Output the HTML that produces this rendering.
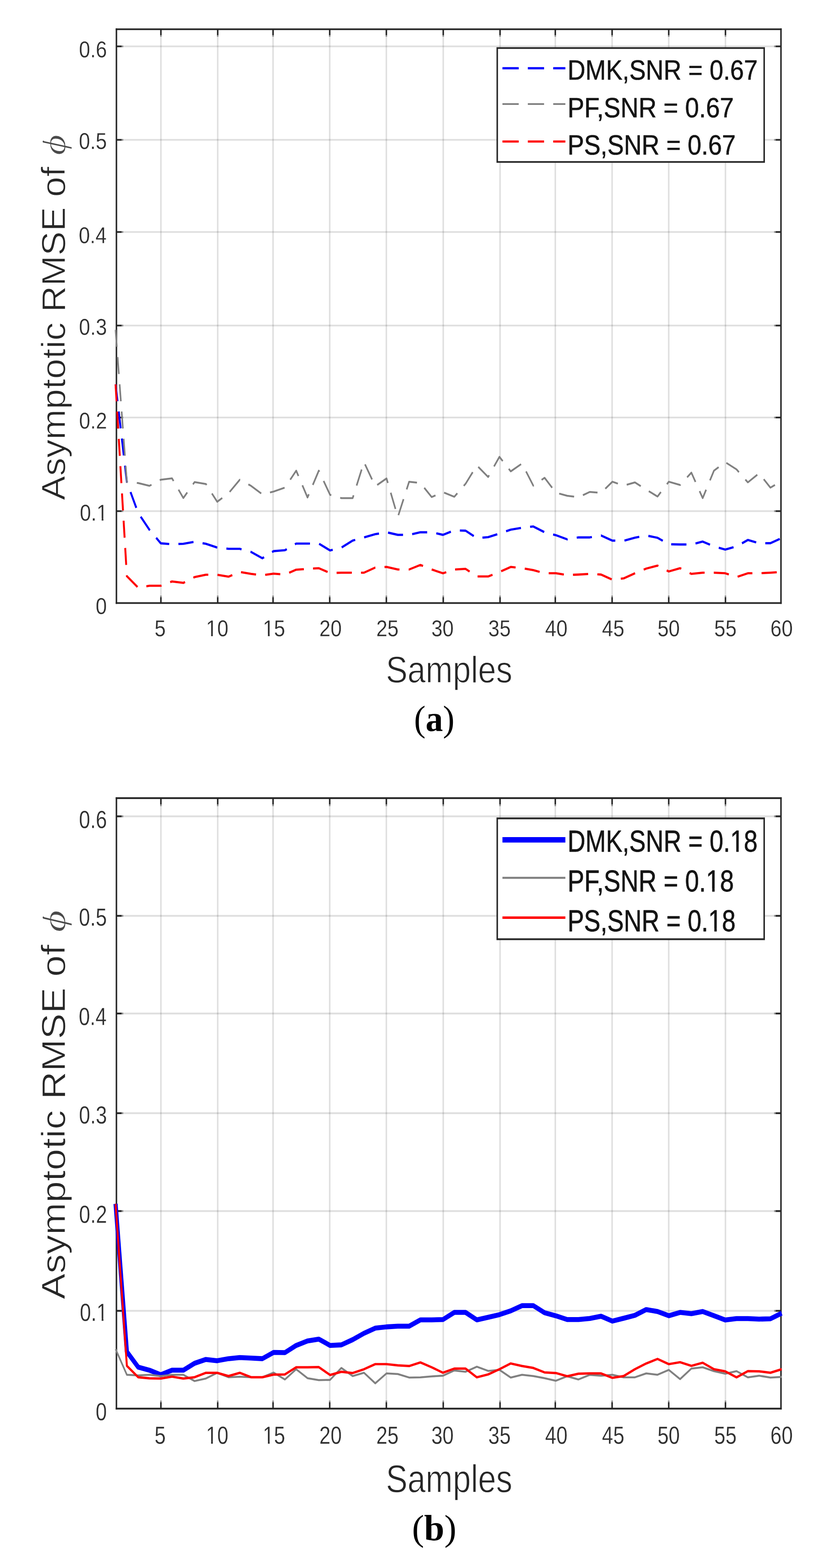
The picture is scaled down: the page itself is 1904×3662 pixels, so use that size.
<!DOCTYPE html>
<html lang="en"><head><meta charset="utf-8"><title>Asymptotic RMSE vs Samples</title>
<style>
html,body{margin:0;padding:0;background:#fff}
body{width:1904px;height:3662px;overflow:hidden}
svg{display:block}
text{white-space:pre;font-family:"Liberation Sans",sans-serif;font-size:100px;fill:#262626;stroke-linejoin:round}
.tk text{fill:#2e2e2e}
.lg text{fill:#141414;stroke:#141414;stroke-width:1.1px}
.ph text{font-family:"Liberation Serif",serif;font-style:italic;fill:#4a4a4a}
.cp text{font-family:"Liberation Serif",serif;font-size:85px;fill:#000}
</style></head><body>
<svg width="1904" height="3662" viewBox="0 0 1904 3662" role="img" aria-label="Asymptotic RMSE versus samples for DMK, PF and PS at SNR 0.67 (a) and SNR 0.18 (b)">
<rect width="1904" height="3662" fill="#fff"/>
<g>
<rect x="374.15" y="68.3" width="3.5" height="1340.1" fill="rgba(38,38,38,.15)"/>
<rect x="506.85" y="68.3" width="3.5" height="1340.1" fill="rgba(38,38,38,.15)"/>
<rect x="636.15" y="68.3" width="3.5" height="1340.1" fill="rgba(38,38,38,.15)"/>
<rect x="768.55" y="68.3" width="3.5" height="1340.1" fill="rgba(38,38,38,.15)"/>
<rect x="900.85" y="68.3" width="3.5" height="1340.1" fill="rgba(38,38,38,.15)"/>
<rect x="1033.75" y="68.3" width="3.5" height="1340.1" fill="rgba(38,38,38,.15)"/>
<rect x="1166.45" y="68.3" width="3.5" height="1340.1" fill="rgba(38,38,38,.15)"/>
<rect x="1295.55" y="68.3" width="3.5" height="1340.1" fill="rgba(38,38,38,.15)"/>
<rect x="1428.25" y="68.3" width="3.5" height="1340.1" fill="rgba(38,38,38,.15)"/>
<rect x="1560.55" y="68.3" width="3.5" height="1340.1" fill="rgba(38,38,38,.15)"/>
<rect x="1693.05" y="68.3" width="3.5" height="1340.1" fill="rgba(38,38,38,.15)"/>
<rect x="272" y="1191.75" width="1552.5" height="3.9" fill="rgba(38,38,38,.15)"/>
<rect x="272" y="973.15" width="1552.5" height="3.9" fill="rgba(38,38,38,.15)"/>
<rect x="272" y="758.35" width="1552.5" height="3.9" fill="rgba(38,38,38,.15)"/>
<rect x="272" y="539.85" width="1552.5" height="3.9" fill="rgba(38,38,38,.15)"/>
<rect x="272" y="324.65" width="1552.5" height="3.9" fill="rgba(38,38,38,.15)"/>
<rect x="272" y="106.35" width="1552.5" height="3.9" fill="rgba(38,38,38,.15)"/>
<rect x="270.25" y="66.35" width="1556" height="3.9" fill="#262626"/>
<rect x="270.25" y="1406.45" width="1556" height="3.9" fill="#262626"/>
<rect x="270.25" y="66.35" width="3.5" height="1344" fill="#262626"/>
<rect x="1822.75" y="66.35" width="3.5" height="1344" fill="#262626"/>
<rect x="374.15" y="1390.9" width="3.5" height="3.8" fill="#8c8c8c"/>
<rect x="374.15" y="1394.7" width="3.5" height="13.7" fill="#262626"/>
<rect x="374.15" y="68.3" width="3.5" height="13.7" fill="#262626"/>
<rect x="374.15" y="82" width="3.5" height="3.8" fill="#8c8c8c"/>
<rect x="506.85" y="1390.9" width="3.5" height="3.8" fill="#8c8c8c"/>
<rect x="506.85" y="1394.7" width="3.5" height="13.7" fill="#262626"/>
<rect x="506.85" y="68.3" width="3.5" height="13.7" fill="#262626"/>
<rect x="506.85" y="82" width="3.5" height="3.8" fill="#8c8c8c"/>
<rect x="636.15" y="1390.9" width="3.5" height="3.8" fill="#8c8c8c"/>
<rect x="636.15" y="1394.7" width="3.5" height="13.7" fill="#262626"/>
<rect x="636.15" y="68.3" width="3.5" height="13.7" fill="#262626"/>
<rect x="636.15" y="82" width="3.5" height="3.8" fill="#8c8c8c"/>
<rect x="768.55" y="1390.9" width="3.5" height="3.8" fill="#8c8c8c"/>
<rect x="768.55" y="1394.7" width="3.5" height="13.7" fill="#262626"/>
<rect x="768.55" y="68.3" width="3.5" height="13.7" fill="#262626"/>
<rect x="768.55" y="82" width="3.5" height="3.8" fill="#8c8c8c"/>
<rect x="900.85" y="1390.9" width="3.5" height="3.8" fill="#8c8c8c"/>
<rect x="900.85" y="1394.7" width="3.5" height="13.7" fill="#262626"/>
<rect x="900.85" y="68.3" width="3.5" height="13.7" fill="#262626"/>
<rect x="900.85" y="82" width="3.5" height="3.8" fill="#8c8c8c"/>
<rect x="1033.75" y="1390.9" width="3.5" height="3.8" fill="#8c8c8c"/>
<rect x="1033.75" y="1394.7" width="3.5" height="13.7" fill="#262626"/>
<rect x="1033.75" y="68.3" width="3.5" height="13.7" fill="#262626"/>
<rect x="1033.75" y="82" width="3.5" height="3.8" fill="#8c8c8c"/>
<rect x="1166.45" y="1390.9" width="3.5" height="3.8" fill="#8c8c8c"/>
<rect x="1166.45" y="1394.7" width="3.5" height="13.7" fill="#262626"/>
<rect x="1166.45" y="68.3" width="3.5" height="13.7" fill="#262626"/>
<rect x="1166.45" y="82" width="3.5" height="3.8" fill="#8c8c8c"/>
<rect x="1295.55" y="1390.9" width="3.5" height="3.8" fill="#8c8c8c"/>
<rect x="1295.55" y="1394.7" width="3.5" height="13.7" fill="#262626"/>
<rect x="1295.55" y="68.3" width="3.5" height="13.7" fill="#262626"/>
<rect x="1295.55" y="82" width="3.5" height="3.8" fill="#8c8c8c"/>
<rect x="1428.25" y="1390.9" width="3.5" height="3.8" fill="#8c8c8c"/>
<rect x="1428.25" y="1394.7" width="3.5" height="13.7" fill="#262626"/>
<rect x="1428.25" y="68.3" width="3.5" height="13.7" fill="#262626"/>
<rect x="1428.25" y="82" width="3.5" height="3.8" fill="#8c8c8c"/>
<rect x="1560.55" y="1390.9" width="3.5" height="3.8" fill="#8c8c8c"/>
<rect x="1560.55" y="1394.7" width="3.5" height="13.7" fill="#262626"/>
<rect x="1560.55" y="68.3" width="3.5" height="13.7" fill="#262626"/>
<rect x="1560.55" y="82" width="3.5" height="3.8" fill="#8c8c8c"/>
<rect x="1693.05" y="1390.9" width="3.5" height="3.8" fill="#8c8c8c"/>
<rect x="1693.05" y="1394.7" width="3.5" height="13.7" fill="#262626"/>
<rect x="1693.05" y="68.3" width="3.5" height="13.7" fill="#262626"/>
<rect x="1693.05" y="82" width="3.5" height="3.8" fill="#8c8c8c"/>
<rect x="272" y="1191.75" width="12.4" height="3.9" fill="#262626"/>
<rect x="284.4" y="1191.75" width="3.6" height="3.9" fill="#8c8c8c"/>
<rect x="1812.1" y="1191.75" width="12.4" height="3.9" fill="#262626"/>
<rect x="1808.5" y="1191.75" width="3.6" height="3.9" fill="#8c8c8c"/>
<rect x="272" y="973.15" width="12.4" height="3.9" fill="#262626"/>
<rect x="284.4" y="973.15" width="3.6" height="3.9" fill="#8c8c8c"/>
<rect x="1812.1" y="973.15" width="12.4" height="3.9" fill="#262626"/>
<rect x="1808.5" y="973.15" width="3.6" height="3.9" fill="#8c8c8c"/>
<rect x="272" y="758.35" width="12.4" height="3.9" fill="#262626"/>
<rect x="284.4" y="758.35" width="3.6" height="3.9" fill="#8c8c8c"/>
<rect x="1812.1" y="758.35" width="12.4" height="3.9" fill="#262626"/>
<rect x="1808.5" y="758.35" width="3.6" height="3.9" fill="#8c8c8c"/>
<rect x="272" y="539.85" width="12.4" height="3.9" fill="#262626"/>
<rect x="284.4" y="539.85" width="3.6" height="3.9" fill="#8c8c8c"/>
<rect x="1812.1" y="539.85" width="12.4" height="3.9" fill="#262626"/>
<rect x="1808.5" y="539.85" width="3.6" height="3.9" fill="#8c8c8c"/>
<rect x="272" y="324.65" width="12.4" height="3.9" fill="#262626"/>
<rect x="284.4" y="324.65" width="3.6" height="3.9" fill="#8c8c8c"/>
<rect x="1812.1" y="324.65" width="12.4" height="3.9" fill="#262626"/>
<rect x="1808.5" y="324.65" width="3.6" height="3.9" fill="#8c8c8c"/>
<rect x="272" y="106.35" width="12.4" height="3.9" fill="#262626"/>
<rect x="284.4" y="106.35" width="3.6" height="3.9" fill="#8c8c8c"/>
<rect x="1812.1" y="106.35" width="12.4" height="3.9" fill="#262626"/>
<rect x="1808.5" y="106.35" width="3.6" height="3.9" fill="#8c8c8c"/>
</g>
<g class="tk">
<text transform="translate(360.96 1485.6) scale(0.4700 0.5300)" stroke="#fff" stroke-width="0.6">5</text>
<text transform="translate(481.28 1485.6) scale(0.4700 0.5300)" stroke="#fff" stroke-width="0.6">10</text><path transform="translate(481.28 1485.6) scale(0.4700 0.5300)" fill="#fff" d="M5.5 -10h19.8v12h-19.8z M34 -10h19v12h-19z"/>
<text transform="translate(613.99 1485.6) scale(0.4700 0.5300)" stroke="#fff" stroke-width="0.6">15</text><path transform="translate(613.99 1485.6) scale(0.4700 0.5300)" fill="#fff" d="M5.5 -10h19.8v12h-19.8z M34 -10h19v12h-19z"/>
<text transform="translate(746.06 1485.6) scale(0.4700 0.5300)" stroke="#fff" stroke-width="0.6">20</text>
<text transform="translate(878.98 1485.6) scale(0.4700 0.5300)" stroke="#fff" stroke-width="0.6">25</text>
<text transform="translate(1007.7 1485.6) scale(0.4700 0.5300)" stroke="#fff" stroke-width="0.6">30</text>
<text transform="translate(1140.82 1485.6) scale(0.4700 0.5300)" stroke="#fff" stroke-width="0.6">35</text>
<text transform="translate(1273.55 1485.6) scale(0.4700 0.5300)" stroke="#fff" stroke-width="0.6">40</text>
<text transform="translate(1406.37 1485.6) scale(0.4700 0.5300)" stroke="#fff" stroke-width="0.6">45</text>
<text transform="translate(1535.9 1485.6) scale(0.4700 0.5300)" stroke="#fff" stroke-width="0.6">50</text>
<text transform="translate(1668.51 1485.6) scale(0.4700 0.5300)" stroke="#fff" stroke-width="0.6">55</text>
<text transform="translate(1799.76 1485.6) scale(0.4700 0.5300)" stroke="#fff" stroke-width="0.6">60</text>
<text transform="translate(223.59 1434.49) scale(0.4700 0.5300)" stroke="#fff" stroke-width="0.6">0</text>
<text transform="translate(186.43 1215.59) scale(0.4700 0.5300)" stroke="#fff" stroke-width="0.6">0.1</text><path transform="translate(186.43 1215.59) scale(0.4700 0.5300)" fill="#fff" d="M88.89 -10h19.8v12h-19.8z M117.39 -10h19v12h-19z"/>
<text transform="translate(184.82 1000.78) scale(0.4700 0.5300)" stroke="#fff" stroke-width="0.6">0.2</text>
<text transform="translate(184.59 782.08) scale(0.4700 0.5300)" stroke="#fff" stroke-width="0.6">0.3</text>
<text transform="translate(183.88 567.78) scale(0.4700 0.5300)" stroke="#fff" stroke-width="0.6">0.4</text>
<text transform="translate(184.35 348.39) scale(0.4700 0.5300)" stroke="#fff" stroke-width="0.6">0.5</text>
<text transform="translate(184.59 133.78) scale(0.4700 0.5300)" stroke="#fff" stroke-width="0.6">0.6</text>
</g>
<g class="lb">
<text transform="translate(901.4 1594.4) scale(0.7600 0.8660)" stroke="#fff" stroke-width="1.6">Samples</text>
<text transform="translate(152.4 1168.3) rotate(-90) scale(0.8500 0.7800)" stroke="#fff" stroke-width="1.6">Asymptotic RMSE of</text>
</g>
<g class="ph">
<text transform="translate(152.4 362.5) rotate(-90) scale(0.9300 0.7500)" stroke="#fff" stroke-width="1.43">&#981;</text>
<text transform="translate(120.9 339.8) rotate(-90) scale(0.4000 0.3200)">&#729;</text>
</g>
<g transform="scale(1 1.12)" fill="none" stroke-linejoin="round">
<polyline points="270,801.4 296.4,1005.3 322.8,1069.6 349.1,1104.7 375.5,1132.9 401.9,1134.8 428.3,1133.9 454.6,1129.8 481,1133.9 507.4,1141.7 533.8,1144.4 560.1,1144.4 586.5,1150.9 612.9,1164.1 639.3,1149.2 665.6,1147.3 692,1133.5 718.4,1133.5 744.8,1133.5 771.1,1147.8 797.5,1141.9 823.9,1127.3 850.3,1120.6 876.7,1113.9 903,1109.9 929.4,1115.3 955.8,1115.3 982.2,1109.9 1008.5,1109.9 1034.9,1115.3 1061.3,1105.9 1087.7,1106.6 1114,1122 1140.4,1120.1 1166.8,1112.6 1193.2,1104.5 1219.5,1100.5 1245.9,1097.8 1272.3,1109.9 1298.7,1116 1325.1,1124.7 1351.4,1120.6 1377.8,1120.6 1404.2,1116.6 1430.6,1127.3 1456.9,1127.7 1483.3,1121.2 1509.7,1116.6 1536.1,1121.4 1562.4,1134.8 1588.8,1135.4 1615.2,1135.4 1641.6,1129.3 1667.9,1139.4 1694.3,1145.9 1720.7,1139.4 1747.1,1126 1773.4,1132.7 1799.8,1132.7 1826.2,1122" stroke="#0000ff" stroke-width="4.6" stroke-dasharray="35.5 21.5"/>
<polyline points="270,687.7 296.4,1005.3 322.8,1007.2 349.1,1013.1 375.5,1000.4 401.9,997.5 428.3,1038.5 454.6,1005.3 481,1009.2 507.4,1046.3 533.8,1028.7 560.1,1000.4 586.5,1013.1 612.9,1030.7 639.3,1025 665.6,1016.8 692,981.5 718.4,1037.3 744.8,981.5 771.1,1031.8 797.5,1038.7 823.9,1038.7 850.3,963.7 876.7,1014.1 903,997.7 929.4,1077.9 955.8,1004.5 982.2,1007.2 1008.5,1036.5 1034.9,1026.4 1061.3,1035.9 1087.7,1008.8 1114,970.6 1140.4,994.6 1166.8,952.6 1193.2,982.9 1219.5,966.5 1245.9,1012.7 1272.3,996.3 1298.7,1027.4 1325.1,1033.8 1351.4,1036.9 1377.8,1025.8 1404.2,1027.7 1430.6,1004.5 1456.9,1012.7 1483.3,1005.9 1509.7,1020.9 1536.1,1035.4 1562.4,1004.5 1588.8,1011.3 1615.2,985.6 1641.6,1038.7 1667.9,981.5 1694.3,963.7 1720.7,978.8 1747.1,1005.9 1773.4,987 1799.8,1016.8 1826.2,1003.2" stroke="#808080" stroke-width="3.8" stroke-dasharray="35.5 21.5"/>
<polyline points="270,801.4 296.4,1201.5 322.8,1225.5 349.1,1221.5 375.5,1221.5 401.9,1212.5 428.3,1215.5 454.6,1203.4 481,1198.5 507.4,1198.5 533.8,1202.5 560.1,1192.7 586.5,1196.7 612.9,1199.4 639.3,1196.2 665.6,1198.1 692,1187.9 718.4,1186.2 744.8,1184.8 771.1,1195 797.5,1194.2 823.9,1194.2 850.3,1194.2 876.7,1183.5 903,1182.2 929.4,1187.5 955.8,1187.5 982.2,1178.1 1008.5,1187.5 1034.9,1195.4 1061.3,1187.5 1087.7,1186.2 1114,1202.1 1140.4,1202.1 1166.8,1192.7 1193.2,1182.2 1219.5,1184.8 1245.9,1188.9 1272.3,1195.4 1298.7,1195.4 1325.1,1199 1351.4,1198.1 1377.8,1196.7 1404.2,1198.1 1430.6,1208.8 1456.9,1206.1 1483.3,1195.4 1509.7,1185.6 1536.1,1179.5 1562.4,1191.6 1588.8,1184.8 1615.2,1196.7 1641.6,1194.2 1667.9,1194.2 1694.3,1195.4 1720.7,1203.4 1747.1,1195.4 1773.4,1195.4 1799.8,1194.2 1826.2,1192.7" stroke="#ff0000" stroke-width="4.5" stroke-dasharray="35.5 21.5"/>
</g>
<g>
<rect x="1159.9" y="110.3" width="627.1" height="269.9" fill="#262626"/>
<rect x="1163.4" y="114.2" width="620.1" height="262.1" fill="#fff"/>
</g>
<g class="lg">
<line x1="1173.8" y1="159.3" x2="1320.8" y2="159.3" stroke="#0000ff" stroke-width="5.2" stroke-dasharray="38 21.3"/>
<text transform="translate(1325.9 186.2) scale(0.5770 0.6550)">DMK,SNR = 0.67</text>
<line x1="1173.8" y1="243.1" x2="1320.8" y2="243.1" stroke="#808080" stroke-width="4" stroke-dasharray="38 21.3"/>
<text transform="translate(1325.9 273.5) scale(0.5850 0.6550)">PF,SNR = 0.67</text>
<line x1="1173.8" y1="330.5" x2="1320.8" y2="330.5" stroke="#ff0000" stroke-width="5" stroke-dasharray="38 21.3"/>
<text transform="translate(1325.9 360.6) scale(0.5770 0.6550)">PS,SNR = 0.67</text>
</g>
<g>
<rect x="374.15" y="1864" width="3.5" height="1425.8" fill="rgba(38,38,38,.15)"/>
<rect x="506.85" y="1864" width="3.5" height="1425.8" fill="rgba(38,38,38,.15)"/>
<rect x="636.15" y="1864" width="3.5" height="1425.8" fill="rgba(38,38,38,.15)"/>
<rect x="768.55" y="1864" width="3.5" height="1425.8" fill="rgba(38,38,38,.15)"/>
<rect x="900.85" y="1864" width="3.5" height="1425.8" fill="rgba(38,38,38,.15)"/>
<rect x="1033.75" y="1864" width="3.5" height="1425.8" fill="rgba(38,38,38,.15)"/>
<rect x="1166.45" y="1864" width="3.5" height="1425.8" fill="rgba(38,38,38,.15)"/>
<rect x="1295.55" y="1864" width="3.5" height="1425.8" fill="rgba(38,38,38,.15)"/>
<rect x="1428.25" y="1864" width="3.5" height="1425.8" fill="rgba(38,38,38,.15)"/>
<rect x="1560.55" y="1864" width="3.5" height="1425.8" fill="rgba(38,38,38,.15)"/>
<rect x="1693.05" y="1864" width="3.5" height="1425.8" fill="rgba(38,38,38,.15)"/>
<rect x="272" y="3059.3" width="1552.5" height="4.2" fill="rgba(38,38,38,.15)"/>
<rect x="272" y="2826.3" width="1552.5" height="4.2" fill="rgba(38,38,38,.15)"/>
<rect x="272" y="2597.7" width="1552.5" height="4.2" fill="rgba(38,38,38,.15)"/>
<rect x="272" y="2364.9" width="1552.5" height="4.2" fill="rgba(38,38,38,.15)"/>
<rect x="272" y="2136.8" width="1552.5" height="4.2" fill="rgba(38,38,38,.15)"/>
<rect x="272" y="1904.4" width="1552.5" height="4.2" fill="rgba(38,38,38,.15)"/>
<rect x="270.25" y="1861.9" width="1556" height="4.2" fill="#262626"/>
<rect x="270.25" y="3287.7" width="1556" height="4.2" fill="#262626"/>
<rect x="270.25" y="1861.9" width="3.5" height="1430" fill="#262626"/>
<rect x="1822.75" y="1861.9" width="3.5" height="1430" fill="#262626"/>
<rect x="374.15" y="3271" width="3.5" height="4" fill="#8c8c8c"/>
<rect x="374.15" y="3275" width="3.5" height="14.8" fill="#262626"/>
<rect x="374.15" y="1864" width="3.5" height="14.8" fill="#262626"/>
<rect x="374.15" y="1878.8" width="3.5" height="4" fill="#8c8c8c"/>
<rect x="506.85" y="3271" width="3.5" height="4" fill="#8c8c8c"/>
<rect x="506.85" y="3275" width="3.5" height="14.8" fill="#262626"/>
<rect x="506.85" y="1864" width="3.5" height="14.8" fill="#262626"/>
<rect x="506.85" y="1878.8" width="3.5" height="4" fill="#8c8c8c"/>
<rect x="636.15" y="3271" width="3.5" height="4" fill="#8c8c8c"/>
<rect x="636.15" y="3275" width="3.5" height="14.8" fill="#262626"/>
<rect x="636.15" y="1864" width="3.5" height="14.8" fill="#262626"/>
<rect x="636.15" y="1878.8" width="3.5" height="4" fill="#8c8c8c"/>
<rect x="768.55" y="3271" width="3.5" height="4" fill="#8c8c8c"/>
<rect x="768.55" y="3275" width="3.5" height="14.8" fill="#262626"/>
<rect x="768.55" y="1864" width="3.5" height="14.8" fill="#262626"/>
<rect x="768.55" y="1878.8" width="3.5" height="4" fill="#8c8c8c"/>
<rect x="900.85" y="3271" width="3.5" height="4" fill="#8c8c8c"/>
<rect x="900.85" y="3275" width="3.5" height="14.8" fill="#262626"/>
<rect x="900.85" y="1864" width="3.5" height="14.8" fill="#262626"/>
<rect x="900.85" y="1878.8" width="3.5" height="4" fill="#8c8c8c"/>
<rect x="1033.75" y="3271" width="3.5" height="4" fill="#8c8c8c"/>
<rect x="1033.75" y="3275" width="3.5" height="14.8" fill="#262626"/>
<rect x="1033.75" y="1864" width="3.5" height="14.8" fill="#262626"/>
<rect x="1033.75" y="1878.8" width="3.5" height="4" fill="#8c8c8c"/>
<rect x="1166.45" y="3271" width="3.5" height="4" fill="#8c8c8c"/>
<rect x="1166.45" y="3275" width="3.5" height="14.8" fill="#262626"/>
<rect x="1166.45" y="1864" width="3.5" height="14.8" fill="#262626"/>
<rect x="1166.45" y="1878.8" width="3.5" height="4" fill="#8c8c8c"/>
<rect x="1295.55" y="3271" width="3.5" height="4" fill="#8c8c8c"/>
<rect x="1295.55" y="3275" width="3.5" height="14.8" fill="#262626"/>
<rect x="1295.55" y="1864" width="3.5" height="14.8" fill="#262626"/>
<rect x="1295.55" y="1878.8" width="3.5" height="4" fill="#8c8c8c"/>
<rect x="1428.25" y="3271" width="3.5" height="4" fill="#8c8c8c"/>
<rect x="1428.25" y="3275" width="3.5" height="14.8" fill="#262626"/>
<rect x="1428.25" y="1864" width="3.5" height="14.8" fill="#262626"/>
<rect x="1428.25" y="1878.8" width="3.5" height="4" fill="#8c8c8c"/>
<rect x="1560.55" y="3271" width="3.5" height="4" fill="#8c8c8c"/>
<rect x="1560.55" y="3275" width="3.5" height="14.8" fill="#262626"/>
<rect x="1560.55" y="1864" width="3.5" height="14.8" fill="#262626"/>
<rect x="1560.55" y="1878.8" width="3.5" height="4" fill="#8c8c8c"/>
<rect x="1693.05" y="3271" width="3.5" height="4" fill="#8c8c8c"/>
<rect x="1693.05" y="3275" width="3.5" height="14.8" fill="#262626"/>
<rect x="1693.05" y="1864" width="3.5" height="14.8" fill="#262626"/>
<rect x="1693.05" y="1878.8" width="3.5" height="4" fill="#8c8c8c"/>
<rect x="272" y="3059.3" width="12.4" height="4.2" fill="#262626"/>
<rect x="284.4" y="3059.3" width="3.6" height="4.2" fill="#8c8c8c"/>
<rect x="1812.1" y="3059.3" width="12.4" height="4.2" fill="#262626"/>
<rect x="1808.5" y="3059.3" width="3.6" height="4.2" fill="#8c8c8c"/>
<rect x="272" y="2826.3" width="12.4" height="4.2" fill="#262626"/>
<rect x="284.4" y="2826.3" width="3.6" height="4.2" fill="#8c8c8c"/>
<rect x="1812.1" y="2826.3" width="12.4" height="4.2" fill="#262626"/>
<rect x="1808.5" y="2826.3" width="3.6" height="4.2" fill="#8c8c8c"/>
<rect x="272" y="2597.7" width="12.4" height="4.2" fill="#262626"/>
<rect x="284.4" y="2597.7" width="3.6" height="4.2" fill="#8c8c8c"/>
<rect x="1812.1" y="2597.7" width="12.4" height="4.2" fill="#262626"/>
<rect x="1808.5" y="2597.7" width="3.6" height="4.2" fill="#8c8c8c"/>
<rect x="272" y="2364.9" width="12.4" height="4.2" fill="#262626"/>
<rect x="284.4" y="2364.9" width="3.6" height="4.2" fill="#8c8c8c"/>
<rect x="1812.1" y="2364.9" width="12.4" height="4.2" fill="#262626"/>
<rect x="1808.5" y="2364.9" width="3.6" height="4.2" fill="#8c8c8c"/>
<rect x="272" y="2136.8" width="12.4" height="4.2" fill="#262626"/>
<rect x="284.4" y="2136.8" width="3.6" height="4.2" fill="#8c8c8c"/>
<rect x="1812.1" y="2136.8" width="12.4" height="4.2" fill="#262626"/>
<rect x="1808.5" y="2136.8" width="3.6" height="4.2" fill="#8c8c8c"/>
<rect x="272" y="1904.4" width="12.4" height="4.2" fill="#262626"/>
<rect x="284.4" y="1904.4" width="3.6" height="4.2" fill="#8c8c8c"/>
<rect x="1812.1" y="1904.4" width="12.4" height="4.2" fill="#262626"/>
<rect x="1808.5" y="1904.4" width="3.6" height="4.2" fill="#8c8c8c"/>
</g>
<g class="tk">
<text transform="translate(360.96 3371.6) scale(0.4700 0.5700)" stroke="#fff" stroke-width="0.58">5</text>
<text transform="translate(481.28 3371.6) scale(0.4700 0.5700)" stroke="#fff" stroke-width="0.58">10</text><path transform="translate(481.28 3371.6) scale(0.4700 0.5700)" fill="#fff" d="M5.5 -10h19.8v12h-19.8z M34 -10h19v12h-19z"/>
<text transform="translate(613.99 3371.6) scale(0.4700 0.5700)" stroke="#fff" stroke-width="0.58">15</text><path transform="translate(613.99 3371.6) scale(0.4700 0.5700)" fill="#fff" d="M5.5 -10h19.8v12h-19.8z M34 -10h19v12h-19z"/>
<text transform="translate(746.06 3371.6) scale(0.4700 0.5700)" stroke="#fff" stroke-width="0.58">20</text>
<text transform="translate(878.98 3371.6) scale(0.4700 0.5700)" stroke="#fff" stroke-width="0.58">25</text>
<text transform="translate(1007.7 3371.6) scale(0.4700 0.5700)" stroke="#fff" stroke-width="0.58">30</text>
<text transform="translate(1140.82 3371.6) scale(0.4700 0.5700)" stroke="#fff" stroke-width="0.58">35</text>
<text transform="translate(1273.55 3371.6) scale(0.4700 0.5700)" stroke="#fff" stroke-width="0.58">40</text>
<text transform="translate(1406.37 3371.6) scale(0.4700 0.5700)" stroke="#fff" stroke-width="0.58">45</text>
<text transform="translate(1535.9 3371.6) scale(0.4700 0.5700)" stroke="#fff" stroke-width="0.58">50</text>
<text transform="translate(1668.51 3371.6) scale(0.4700 0.5700)" stroke="#fff" stroke-width="0.58">55</text>
<text transform="translate(1799.76 3371.6) scale(0.4700 0.5700)" stroke="#fff" stroke-width="0.58">60</text>
<text transform="translate(223.59 3317.07) scale(0.4700 0.5700)" stroke="#fff" stroke-width="0.58">0</text>
<text transform="translate(186.43 3084.87) scale(0.4700 0.5700)" stroke="#fff" stroke-width="0.58">0.1</text><path transform="translate(186.43 3084.87) scale(0.4700 0.5700)" fill="#fff" d="M88.89 -10h19.8v12h-19.8z M117.39 -10h19v12h-19z"/>
<text transform="translate(184.82 2856.07) scale(0.4700 0.5700)" stroke="#fff" stroke-width="0.58">0.2</text>
<text transform="translate(184.59 2623.97) scale(0.4700 0.5700)" stroke="#fff" stroke-width="0.58">0.3</text>
<text transform="translate(183.88 2394.16) scale(0.4700 0.5700)" stroke="#fff" stroke-width="0.58">0.4</text>
<text transform="translate(184.35 2161.97) scale(0.4700 0.5700)" stroke="#fff" stroke-width="0.58">0.5</text>
<text transform="translate(184.59 1933.76) scale(0.4700 0.5700)" stroke="#fff" stroke-width="0.58">0.6</text>
</g>
<g class="lb">
<text transform="translate(901.4 3485.3) scale(0.7600 0.9100)" stroke="#fff" stroke-width="1.56">Samples</text>
<text transform="translate(152.4 3034.6) rotate(-90) scale(0.9040 0.7800)" stroke="#fff" stroke-width="1.54">Asymptotic RMSE of</text>
</g>
<g class="ph">
<text transform="translate(152.4 2177) rotate(-90) scale(0.9900 0.7500)" stroke="#fff" stroke-width="1.38">&#981;</text>
<text transform="translate(120.9 2152.4) rotate(-90) scale(0.4260 0.3200)">&#729;</text>
</g>
<g transform="scale(1 1.19)" fill="none" stroke-linejoin="round">
<polyline points="270,2362.6 296.4,2652.8 322.8,2683 349.1,2689.1 375.5,2698.1 401.9,2689.1 428.3,2689.1 454.6,2675.5 481,2668 507.4,2670.5 533.8,2666.5 560.1,2664.2 586.5,2665.3 612.9,2666.5 639.3,2654.2 665.6,2654.6 692,2640.5 718.4,2631.7 744.8,2628.1 771.1,2640.5 797.5,2639.4 823.9,2629.2 850.3,2616.7 876.7,2606.6 903,2604.1 929.4,2602.7 955.8,2602.7 982.2,2590.3 1008.5,2590.3 1034.9,2589.7 1061.3,2575.7 1087.7,2575.7 1114,2590.3 1140.4,2585.3 1166.8,2580.1 1193.2,2572.6 1219.5,2562.4 1245.9,2562.4 1272.3,2576.4 1298.7,2582.4 1325.1,2589.7 1351.4,2589.7 1377.8,2587.6 1404.2,2583.2 1430.6,2592.8 1456.9,2587.2 1483.3,2581.4 1509.7,2570.1 1536.1,2573.9 1562.4,2582.2 1588.8,2575.7 1615.2,2578.2 1641.6,2573.9 1667.9,2582.2 1694.3,2590.6 1720.7,2587.8 1747.1,2587.8 1773.4,2588.9 1799.8,2588.2 1826.2,2577.2" stroke="#0000ff" stroke-width="9.7"/>
<polyline points="270,2647.7 296.4,2698.1 322.8,2699.3 349.1,2698.1 375.5,2700.6 401.9,2698.1 428.3,2698.1 454.6,2710.4 481,2705.4 507.4,2694.3 533.8,2702.9 560.1,2701.8 586.5,2702.9 612.9,2702.9 639.3,2693.9 665.6,2707.3 692,2687.2 718.4,2704.8 744.8,2708.7 771.1,2708.1 797.5,2684.7 823.9,2700.6 850.3,2694.1 876.7,2714.8 903,2695.4 929.4,2696.6 955.8,2703.5 982.2,2703.1 1008.5,2701.2 1034.9,2699.9 1061.3,2689.7 1087.7,2692.2 1114,2682.2 1140.4,2690.5 1166.8,2688.5 1193.2,2703.5 1219.5,2698.1 1245.9,2700.6 1272.3,2704.8 1298.7,2709.8 1325.1,2701 1351.4,2707.3 1377.8,2698.3 1404.2,2699.9 1430.6,2698.1 1456.9,2703.1 1483.3,2703.1 1509.7,2695.4 1536.1,2698.1 1562.4,2688.5 1588.8,2706.6 1615.2,2686 1641.6,2683.4 1667.9,2691 1694.3,2696 1720.7,2691 1747.1,2703.1 1773.4,2699.9 1799.8,2703.5 1826.2,2702.4" stroke="#808080" stroke-width="3.8"/>
<polyline points="270,2362.6 296.4,2680.5 322.8,2702.9 349.1,2705 375.5,2705.4 401.9,2701.8 428.3,2705.4 454.6,2702.9 481,2694.3 507.4,2694.3 533.8,2700.6 560.1,2694.3 586.5,2702.9 612.9,2702.9 639.3,2697.7 665.6,2697.4 692,2683.4 718.4,2683.4 744.8,2683 771.1,2698.5 797.5,2692.2 823.9,2694.7 850.3,2687.2 876.7,2677.2 903,2677.2 929.4,2679.7 955.8,2680.9 982.2,2673.9 1008.5,2683.4 1034.9,2694.1 1061.3,2686 1087.7,2686 1114,2703.1 1140.4,2697.4 1166.8,2687.2 1193.2,2675.9 1219.5,2680.9 1245.9,2684.7 1272.3,2693.5 1298.7,2694.7 1325.1,2701 1351.4,2696 1377.8,2695.4 1404.2,2695.4 1430.6,2704.1 1456.9,2700.6 1483.3,2687.2 1509.7,2675.9 1536.1,2667 1562.4,2677.2 1588.8,2673.4 1615.2,2680.5 1641.6,2674.5 1667.9,2687.2 1694.3,2691.4 1720.7,2703.1 1747.1,2691 1773.4,2691.4 1799.8,2694.1 1826.2,2687.2" stroke="#ff0000" stroke-width="4.6"/>
</g>
<g>
<rect x="1159.9" y="1909.2" width="627.1" height="286.4" fill="#262626"/>
<rect x="1163.4" y="1913.4" width="620.1" height="278" fill="#fff"/>
</g>
<g class="lg">
<line x1="1173.8" y1="1961.3" x2="1320.8" y2="1961.3" stroke="#0000ff" stroke-width="12.7"/>
<text transform="translate(1325.9 1989.4) scale(0.5770 0.7000)">DMK,SNR = 0.18</text><path transform="translate(1325.9 1989.4) scale(0.5770 0.7000)" fill="#fff" d="M663.98 -10h19.1v12h-19.1z M692.98 -10h18.5v12h-18.5z"/>
<line x1="1173.8" y1="2050.1" x2="1320.8" y2="2050.1" stroke="#808080" stroke-width="4.6"/>
<text transform="translate(1325.9 2082.1) scale(0.5850 0.7000)">PF,SNR = 0.18</text><path transform="translate(1325.9 2082.1) scale(0.5850 0.7000)" fill="#fff" d="M558.47 -10h19.1v12h-19.1z M587.47 -10h18.5v12h-18.5z"/>
<line x1="1173.8" y1="2143.1" x2="1320.8" y2="2143.1" stroke="#ff0000" stroke-width="5.6"/>
<text transform="translate(1325.9 2175.2) scale(0.5770 0.7000)">PS,SNR = 0.18</text><path transform="translate(1325.9 2175.2) scale(0.5770 0.7000)" fill="#fff" d="M575.17 -10h19.1v12h-19.1z M604.17 -10h18.5v12h-18.5z"/>
</g>
<g class="cp"><text transform="translate(967.2 1707.2) scale(0.955 1)">(<tspan font-weight="bold">a</tspan>)</text><text transform="translate(962.5 3597.3) scale(1 1)">(<tspan font-weight="bold">b</tspan>)</text></g>
</svg>
</body></html>
